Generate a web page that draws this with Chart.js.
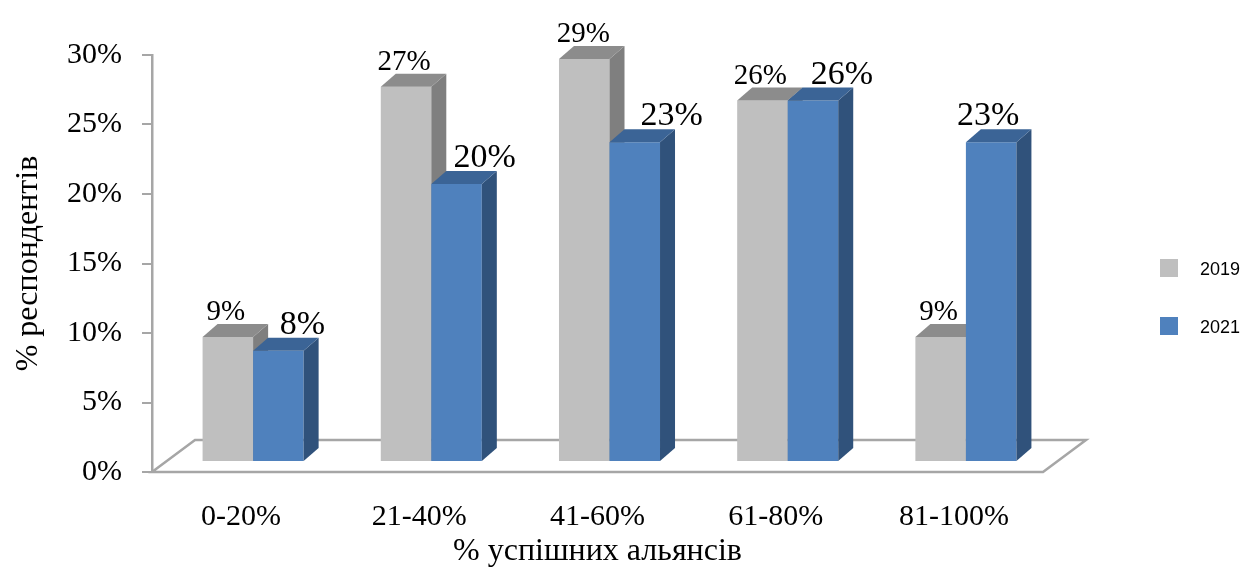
<!DOCTYPE html>
<html>
<head>
<meta charset="utf-8">
<script src="https://cdn.jsdelivr.net/npm/chart.js@4.4.1/dist/chart.umd.min.js"></script>
<style>
  html, body { margin: 0; padding: 0; background: #fff; }
</style>
</head>
<body>
<canvas id="alliances" width="1245" height="571"></canvas>
<script>
// survey results: share of respondents by share of successful alliances
const categories = ['0-20%', '21-40%', '41-60%', '61-80%', '81-100%'];
const share2019 = [9, 27, 29, 26, 9];
const share2021 = [8, 20, 23, 26, 23];
const yMin = 0, yMax = 30, yStep = 5;

// horizontal nudges for the value labels (px)
const labelNudge = [[-2, -2, -1, -2, -2], [24, 28, 37, 29, -3]];

const SERIF = '"Liberation Serif", "Times New Roman", serif';
const SHIFT_X = 12, SHIFT_Y = 10;   // bars stand a bit behind the floor's front edge
const DEPTH_X = 15, DEPTH_Y = 13;   // box depth of a bar
const FLOOR_X = 43, FLOOR_Y = 32;   // depth of the floor

const faces = [
  { front: '#bfbfbf', side: '#7f7f7f', top: '#8c8c8c', font: '29px ' + SERIF },
  { front: '#4f81bd', side: '#30527b', top: '#3b6496', font: '34px ' + SERIF }
];

function drawBoxFaces(ctx, meta, f) {
  meta.data.forEach(bar => {
    const { x, y, base, width } = bar.getProps(['x', 'y', 'base', 'width'], true);
    const l = x - width / 2, r = x + width / 2;
    // right side
    ctx.fillStyle = f.side;
    ctx.beginPath();
    ctx.moveTo(r, y);
    ctx.lineTo(r + DEPTH_X, y - DEPTH_Y);
    ctx.lineTo(r + DEPTH_X, base - DEPTH_Y);
    ctx.lineTo(r, base);
    ctx.closePath();
    ctx.fill();
    // top
    ctx.fillStyle = f.top;
    ctx.beginPath();
    ctx.moveTo(l, y);
    ctx.lineTo(l + DEPTH_X, y - DEPTH_Y);
    ctx.lineTo(r + DEPTH_X, y - DEPTH_Y);
    ctx.lineTo(r, y);
    ctx.closePath();
    ctx.fill();
  });
}

const bars3d = {
  id: 'bars3d',
  beforeDatasetsDraw(chart) {
    const { ctx, chartArea: a } = chart;
    ctx.save();
    ctx.strokeStyle = '#a6a6a6';
    ctx.lineWidth = 2.5;
    ctx.beginPath();
    ctx.moveTo(a.left, a.bottom);
    ctx.lineTo(a.left + FLOOR_X, a.bottom - FLOOR_Y);
    ctx.lineTo(a.right + FLOOR_X, a.bottom - FLOOR_Y);
    ctx.lineTo(a.right, a.bottom);
    ctx.closePath();
    ctx.stroke();
    ctx.restore();
  },
  // the datasets are painted below, back-to-front in index order
  beforeDatasetDraw() {
    return false;
  },
  afterDatasetsDraw(chart) {
    const ctx = chart.ctx;
    ctx.save();
    ctx.translate(SHIFT_X, -SHIFT_Y);
    chart.data.datasets.forEach((ds, di) => {
      const meta = chart.getDatasetMeta(di);
      meta.controller.draw();
      drawBoxFaces(ctx, meta, faces[di]);
    });
    ctx.restore();

    // value labels
    ctx.save();
    ctx.fillStyle = '#000';
    ctx.textAlign = 'center';
    ctx.textBaseline = 'alphabetic';
    chart.data.datasets.forEach((ds, di) => {
      ctx.font = faces[di].font;
      chart.getDatasetMeta(di).data.forEach((bar, i) => {
        const { x, y } = bar.getProps(['x', 'y'], true);
        ctx.fillText(ds.data[i] + '%', x + SHIFT_X + labelNudge[di][i], y - SHIFT_Y - DEPTH_Y - 4);
      });
    });
    ctx.restore();
  },
  afterDraw(chart) {
    // legend on the right
    const ctx = chart.ctx;
    ctx.save();
    ctx.font = '18px "Liberation Sans", Arial, sans-serif';
    ctx.textBaseline = 'middle';
    chart.data.datasets.forEach((ds, di) => {
      const cy = 268 + di * 58;
      ctx.fillStyle = faces[di].front;
      ctx.fillRect(1160, cy - 9, 18, 18);
      ctx.fillStyle = '#000';
      ctx.fillText(ds.label, 1200, cy + 2);
    });
    ctx.restore();
  }
};

new Chart(document.getElementById('alliances'), {
  type: 'bar',
  data: {
    labels: categories,
    datasets: [
      { label: '2019', data: share2019, backgroundColor: faces[0].front, clip: false },
      { label: '2021', data: share2021, backgroundColor: faces[1].front, clip: false }
    ]
  },
  options: {
    responsive: false,
    animation: false,
    devicePixelRatio: 1,
    categoryPercentage: 0.567,
    barPercentage: 1,
    layout: { padding: { left: 0, right: 202, top: 55, bottom: 0 } },
    plugins: { legend: { display: false }, tooltip: { enabled: false } },
    scales: {
      x: {
        grid: { display: false },
        border: { display: false },
        ticks: { color: '#000', padding: 19, font: { family: SERIF, size: 30 } },
        title: {
          display: true, text: '% успішних альянсів', color: '#000',
          font: { family: SERIF, size: 32 }, padding: { top: 0, bottom: 0 }
        },
        afterFit(s) { s.height = 99; s.paddingLeft = 0; s.paddingRight = 0; }
      },
      y: {
        min: yMin, max: yMax,
        grid: { display: true, drawOnChartArea: false, drawTicks: true, tickLength: 10, color: '#a6a6a6', lineWidth: 2 },
        border: { display: true, color: '#a6a6a6', width: 2.5 },
        ticks: {
          stepSize: yStep, color: '#000', padding: 20,
          font: { family: SERIF, size: 30 },
          callback: v => v + '%'
        },
        title: {
          display: true, text: '% респондентів', color: '#000',
          font: { family: SERIF, size: 32 }, padding: { top: 9, bottom: 0 }
        },
        afterFit(s) { s.width = 152; s.paddingTop = 0; s.paddingBottom = 0; }
      }
    }
  },
  plugins: [bars3d]
});
</script>
</body>
</html>
